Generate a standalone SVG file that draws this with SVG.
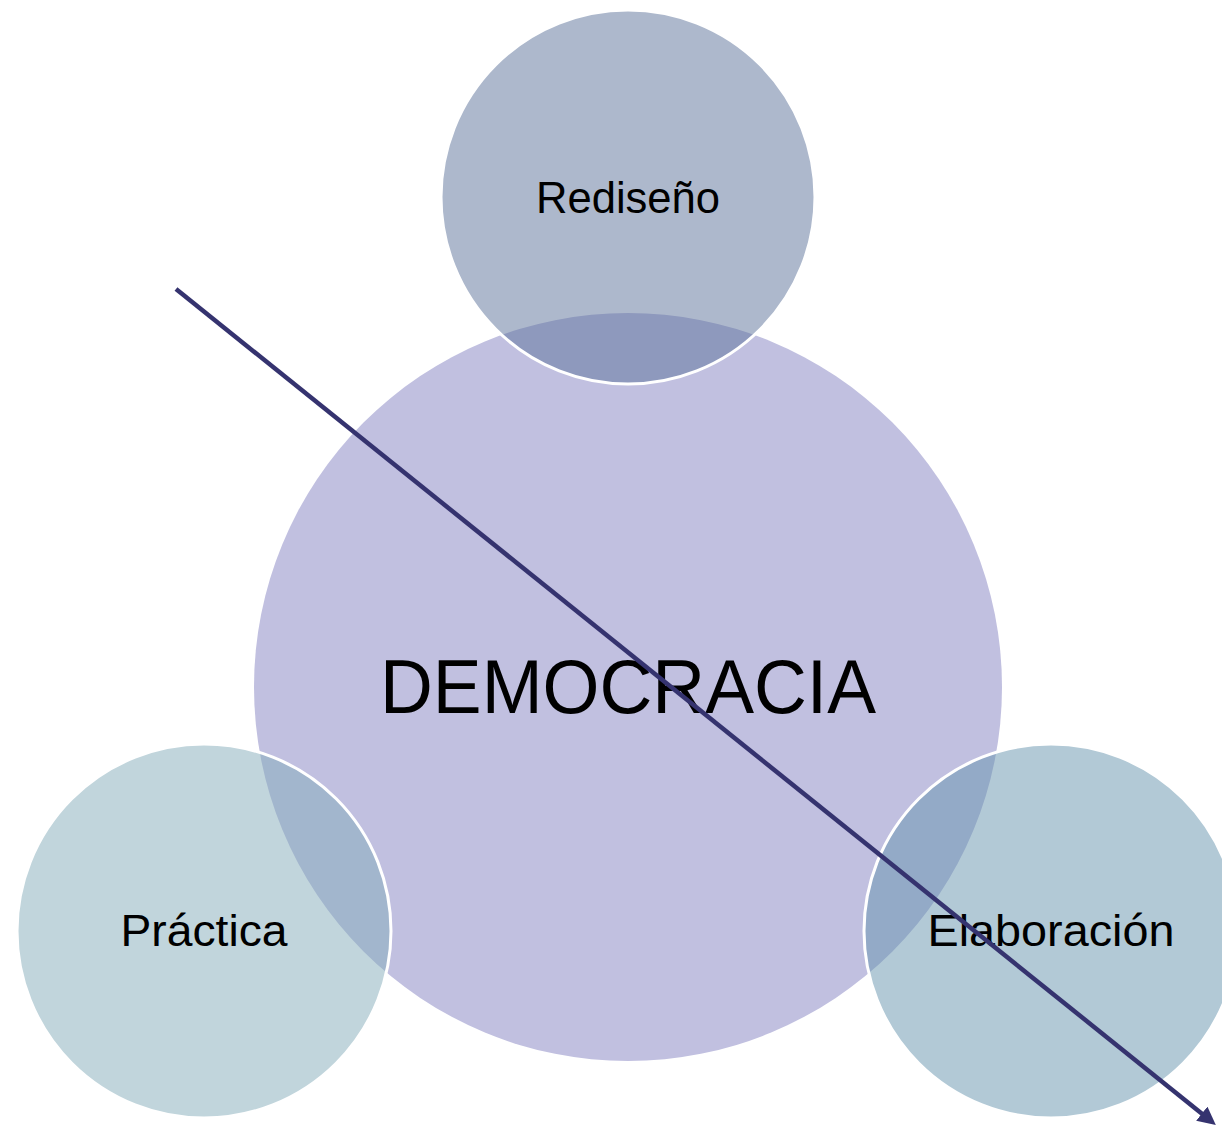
<svg xmlns="http://www.w3.org/2000/svg" width="1222" height="1128" viewBox="0 0 1222 1128">
<defs>
<style>
.lbl{font-family:"Liberation Sans","DejaVu Sans",sans-serif;fill:#000;text-anchor:middle}
.sat{stroke:#fff;stroke-width:3;fill-opacity:0.5}
</style>
<marker id="ah" viewBox="0 0 10 10" refX="3" refY="5" markerWidth="4" markerHeight="4" orient="auto" markerUnits="strokeWidth">
<path d="M0,0 L10,5 L0,10 z" fill="#35336f"/>
</marker>
</defs>
<rect width="1222" height="1128" fill="#fff"/>
<g id="democracia">
<circle cx="628" cy="687" r="374" fill="#c1c0e0"/>
<text class="lbl" x="628" y="713" font-size="76" textLength="496" lengthAdjust="spacingAndGlyphs">DEMOCRACIA</text>
</g>
<g id="rediseno">
<circle class="sat" cx="628" cy="197" r="187" fill="#5b7199"/>
<text class="lbl" x="628" y="213" font-size="44" textLength="184" lengthAdjust="spacingAndGlyphs">Rediseño</text>
</g>
<g id="practica">
<circle class="sat" cx="204" cy="931" r="187" fill="#83abb9"/>
<text class="lbl" x="204" y="946" font-size="44" textLength="167" lengthAdjust="spacingAndGlyphs">Práctica</text>
</g>
<g id="elaboracion">
<circle class="sat" cx="1051" cy="931" r="187" fill="#6593ad"/>
<text class="lbl" x="1051" y="946" font-size="44" textLength="247" lengthAdjust="spacingAndGlyphs">Elaboración</text>
</g>
<g id="connectors">
<line x1="176" y1="289" x2="1206" y2="1117" stroke="#35336f" stroke-width="4.5" marker-end="url(#ah)"/>
</g>
</svg>
